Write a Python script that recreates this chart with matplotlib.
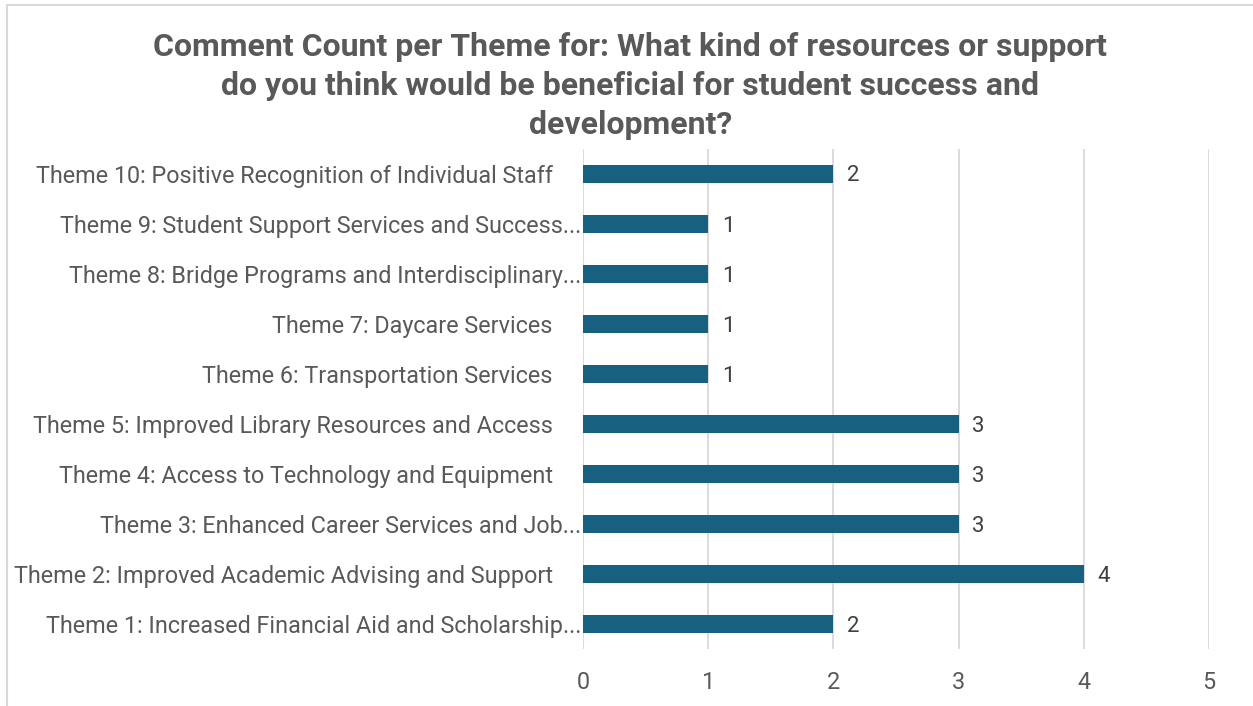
import matplotlib.pyplot as plt
from matplotlib.patches import Rectangle

themes = [
    "Theme 1: Increased Financial Aid and Scholarship...",
    "Theme 2: Improved Academic Advising and Support",
    "Theme 3: Enhanced Career Services and Job...",
    "Theme 4: Access to Technology and Equipment",
    "Theme 5: Improved Library Resources and Access",
    "Theme 6: Transportation Services",
    "Theme 7: Daycare Services",
    "Theme 8: Bridge Programs and Interdisciplinary...",
    "Theme 9: Student Support Services and Success...",
    "Theme 10: Positive Recognition of Individual Staff",
]
counts = [2, 4, 3, 3, 3, 1, 1, 1, 1, 2]
xticks = [0, 1, 2, 3, 4, 5]

bar_color = "#18607F"
text_color = "#595959"
grid_color = "#D9D9D9"

plt.rcParams['font.family'] = ['Roboto', 'DejaVu Sans']

fig = plt.figure(figsize=(12.53, 7.06), dpi=100)
ax = fig.add_axes([583 / 1253, 1 - 649 / 706, 626 / 1253, 500 / 706])

ypos = range(len(themes))
ax.barh(ypos, counts, height=0.36, color=bar_color, zorder=3)
for y, v in zip(ypos, counts):
    ax.text(v + 0.11, y - 0.04, str(v), va="center", ha="left", fontsize=16,
            color="#404040")

# full labels carry a trailing gap, the cut-off ones run up to the axis
labels = [t if t.endswith("...") else t + "     " for t in themes]

ax.set_xlim(0, 5)
ax.set_ylim(-0.5, len(themes) - 0.5)
ax.set_xticks(xticks)
ax.set_yticks(list(ypos))
ax.set_yticklabels(labels)
ax.tick_params(axis="both", length=0, labelsize=16.8, labelcolor=text_color)
ax.tick_params(axis="x", pad=16)
ax.tick_params(axis="y", pad=1)
ax.grid(axis="x", color=grid_color, linewidth=1.3, zorder=0)
for s in ax.spines.values():
    s.set_visible(False)

fig.text(0.503, 1 - 86 / 706,
         "Comment Count per Theme for: What kind of resources or support\n"
         "do you think would be beneficial for student success and\n"
         "development?",
         ha="center", va="center", fontsize=23, fontweight="bold",
         color=text_color, linespacing=1.36)

# chart frame
fig.patches.append(Rectangle((7 / 1253, -0.1), 1.2, 1 - 5 / 706 + 0.1,
                             transform=fig.transFigure, fill=False,
                             edgecolor=grid_color, linewidth=1.5))

fig.savefig("out.png", dpi=100)
